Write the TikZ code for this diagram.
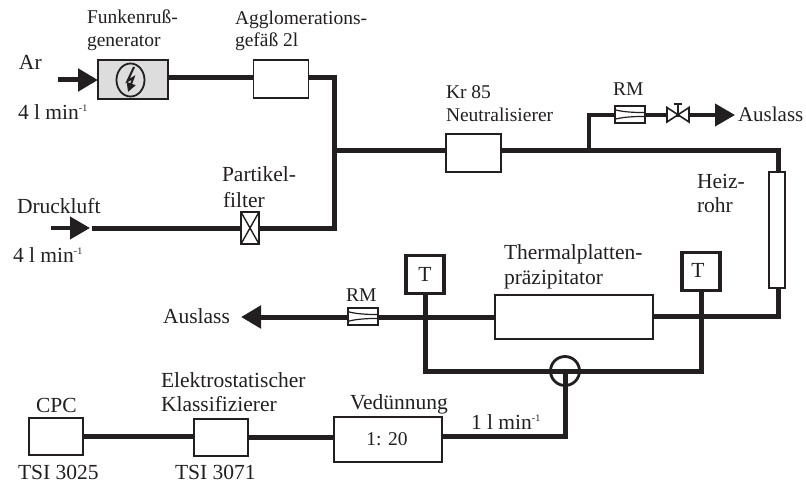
\documentclass[tikz,border=0pt]{standalone}
\usepackage{fontspec}
\setmainfont{Liberation Serif}
\usetikzlibrary{arrows.meta,shapes.geometric}

\definecolor{ink}{HTML}{231F20}
\definecolor{sparkgray}{HTML}{DCDDDC}

\newcommand{\flowrate}[1]{#1\hspace{0.25em}l\hspace{0.25em}min\raisebox{8pt}{\fontsize{10}{10}\selectfont -1}}

\tikzset{
  pipe/.style={draw=ink, line width=5pt, line join=miter},
  lab/.style={anchor=base west, inner sep=0pt, outer sep=0pt, text=ink,
    font=\fontsize{21.5}{24}\selectfont},
  labs/.style={lab, font=\fontsize{19.5}{22}\selectfont},
  labc/.style={lab, anchor=base},
  unit/.style={draw=ink, fill=white, line width=1.8pt, inner sep=0pt, outer sep=0pt},
  sensor/.style={unit, line width=3.8pt, minimum width=38pt, minimum height=38pt},
  flow/.style={unit, line width=2pt, minimum width=30pt, minimum height=17pt,
    path picture={
      \draw[ink, line width=1.2pt]
        (path picture bounding box.west) ++(0pt,5pt)
        .. controls +(10pt,-4pt) and +(20pt,-4pt) .. ++(30pt,0pt);
      \draw[ink, line width=1.2pt]
        (path picture bounding box.west) ++(0pt,-5pt)
        .. controls +(10pt,4pt) and +(20pt,4pt) .. ++(30pt,0pt);
    }},
  bigtip/.style={-{Triangle[length=20pt,width=22pt,color=ink]}}
}

\begin{document}
\begin{tikzpicture}[x=1pt,y=-1pt]
    \useasboundingbox (0,0) rectangle (806,484);

    % units
    \node[unit, fill=sparkgray, minimum width=70pt, minimum height=39pt] (funken) at (133,79.5) {};
    \node[unit, minimum width=55pt, minimum height=38pt] (agglo) at (281,79) {};
    \node[unit, minimum width=55pt, minimum height=38pt] (kr) at (473.5,153) {};
    \node[unit, minimum width=16pt, minimum height=116pt] (heiz) at (777,230) {};
    \node[unit, minimum width=158pt, minimum height=44pt] (platte) at (574,317) {};
    \node[unit, minimum width=54pt, minimum height=37pt] (cpc) at (56,436.5) {};
    \node[unit, minimum width=54pt, minimum height=37pt] (klass) at (221,437.5) {};
    \node[unit, minimum width=108pt, minimum height=45pt] (vedu) at (388,439.5) {};
    \node[sensor] (tleft) at (425,274.5) {};
    \node[sensor] (tright) at (701,271.5) {};

    % junctions and free ends
    \coordinate (ar) at (58,80);
    \coordinate (top) at (200,78);
    \coordinate (druck) at (51,228);
    \coordinate (druckend) at (90,228);
    \coordinate (pipein) at (92,228);
    \coordinate (bottom) at (250,228);
    \coordinate (junc) at (334.5,151);
    \coordinate (branch) at (589,151);
    \coordinate (corner) at (778,151);
    \coordinate (lowcorner) at (778,316);
    \coordinate (valve) at (678,115);
    \coordinate (out) at (735,115);
    \coordinate (outlow) at (241,317);

    % pipes
    \draw[pipe] (funken.east |- top) -- (agglo.west |- top);
    \draw[pipe] (agglo.east |- top) -- (junc |- top) -- (junc);
    \draw[pipe, bigtip] (ar) -- (funken.west |- ar);
    \draw[pipe, line width=4pt, bigtip] (druck) -- (druckend);
    \draw[pipe] (pipein) -- (bottom);
    \draw[pipe] (bottom) -- (junc |- bottom) -- (junc);
    \draw[pipe] (junc) -- (kr.west |- junc);
    \draw[pipe] (kr.east |- junc) -- (corner) -- (heiz.north -| corner);
    \draw[pipe] (heiz.south -| corner) -- (lowcorner) -- (platte.east |- lowcorner);
    \draw[pipe] (platte.west) -- (tleft.south |- platte.west);
    \draw[pipe, bigtip] (tleft.south |- platte.west) -- (outlow);
    \draw[pipe] (tleft.south) |- (565,371) -| (tright.south);
    \draw[pipe] (cpc.east) -- (klass.west |- cpc.east);
    \draw[pipe] (klass.east) -- (vedu.west |- klass.east);
    \draw[pipe] ([yshift=3.5pt]vedu.east) -| (565,371);
    \draw[pipe, line width=4pt] (branch) -- (branch |- valve) -- (valve);
    \draw[pipe, line width=4pt, bigtip] (valve) -- (out);

    % inline parts
    \node[flow] (rmtop) at (629.5,114.5) {};
    \node[flow] (rmlow) at (363,316.5) {};
    \node[unit, minimum width=18pt, minimum height=32pt] (filter) at (bottom) {};
    \draw[ink, line width=1.4pt] (filter.north west) -- (filter.south east)
      (filter.north east) -- (filter.south west);
    \node[circle, draw=ink, line width=2.8pt, minimum size=29pt, inner sep=0pt] (cross) at (565,371) {};
    \node[ellipse, draw=ink, line width=1.8pt, minimum width=28pt, minimum height=33pt, inner sep=0pt] (spark) at (130.5,80) {};
    \draw[ink, line width=2pt, -{Triangle[length=9pt,width=9pt,color=ink]}]
      (134,67) -- (127.5,81) -- (133.5,77.5) -- (128,92);
    \fill[white] (667,107.5) -- (689,122) -- (689,107.5) -- (667,122) -- cycle;
    \draw[ink, line width=1.6pt] (667,107.5) -- (689,122) -- (689,107.5) -- (667,122) -- cycle;
    \draw[ink, line width=1.6pt] (678,114.7) -- (678,104) (674,104) -- (682,104);

    % labels
    \node[labs] (lfunken) at (87,24) {Funkenruß-};
    \node[labs] (lgen) at (87,47) {generator};
    \node[labs] (lagglo) at (235,25) {Agglomerations-};
    \node[labs] (lgef) at (235,47) {gefäß 2l};
    \node[lab] (lar) at (19,70) {Ar};
    \node[lab] (larflow) at (18,120) {\flowrate{4}};
    \node[lab] (ldruck) at (17,213) {Druckluft};
    \node[lab] (ldruckflow) at (13,262) {\flowrate{4}};
    \node[lab] (lpart) at (222,182) {Partikel-};
    \node[lab] (lfilter) at (223,207) {filter};
    \node[labs] (lkr) at (446,99) {Kr 85};
    \node[labs] (lneutral) at (446,122) {Neutralisierer};
    \node[labs] (lrmtop) at (613,96) {RM};
    \node[lab, font=\fontsize{21}{24}\selectfont] (lausa) at (738,122) {Auslass};
    \node[lab] (lheiz) at (697,188) {Heiz-};
    \node[lab] (lrohr) at (697,212) {rohr};
    \node[lab] (ltherm) at (504,259) {Thermalplatten-};
    \node[lab] (lpraez) at (504,284) {präzipitator};
    \node[labc] (ltl) at (425,281) {T};
    \node[labc] (ltr) at (698,277) {T};
    \node[labs] (lrmlow) at (346,301) {RM};
    \node[lab] (lausb) at (163,323) {Auslass};
    \node[lab] (lvedu) at (350,409) {Vedünnung};
    \node[labc, labs, anchor=base] (lratio) at (387,445) {1: 20};
    \node[lab] (lflow) at (471,429) {\flowrate{1}};
    \node[lab] (lcpc) at (36,412) {CPC};
    \node[lab] (lelektro) at (161,387) {Elektrostatischer};
    \node[lab] (lklass) at (161,411) {Klassifizierer};
    \node[lab] (ltsia) at (18,479) {TSI 3025};
    \node[lab] (ltsib) at (175,479) {TSI 3071};
\end{tikzpicture}
\end{document}
